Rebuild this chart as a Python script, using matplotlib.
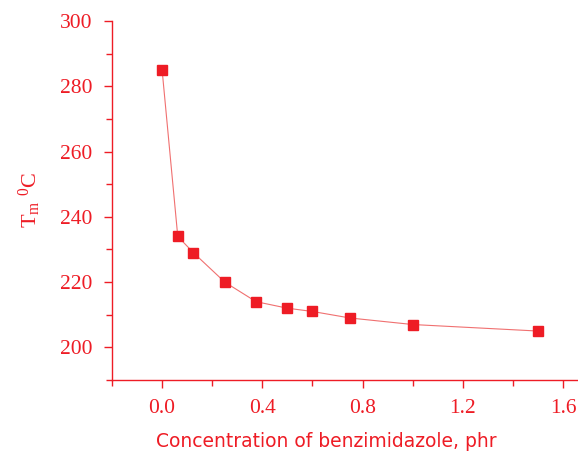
import matplotlib
matplotlib.use("Agg")
import matplotlib.pyplot as plt
from matplotlib.ticker import MultipleLocator

plt.rcParams["mathtext.fontset"] = "custom"
plt.rcParams["mathtext.rm"] = "Liberation Serif"
plt.rcParams["mathtext.it"] = "Liberation Serif:italic"

conc = [0.0, 0.0625, 0.125, 0.25, 0.375, 0.5, 0.6, 0.75, 1.0, 1.5]
tm = [285, 234, 229, 220, 214, 212, 211, 209, 207, 205]
xticks = [0.0, 0.4, 0.8, 1.2, 1.6]
yticks = [200, 220, 240, 260, 280, 300]

red = "#ee1c25"
fig = plt.figure(figsize=(5.78, 4.54), dpi=100)
ax = fig.add_axes([112/578, 1-380/454, 1-112/578, (380-21)/454])
ax.plot(conc, tm, color="#f07070", lw=0.8, zorder=2)
ax.plot(conc, tm, ls="none", marker="s", ms=7.5, color=red, mec=red, zorder=3)

ax.set_xlim(-0.2, 1.66)
ax.set_ylim(190, 300)
ax.xaxis.set_minor_locator(MultipleLocator(0.2))
ax.yaxis.set_minor_locator(MultipleLocator(10))
ax.set_yticks(yticks)
ax.set_yticklabels([f"{v:d}" for v in yticks])
ax.set_xticks(xticks)
ax.set_xticklabels([f"{v:.1f}" for v in xticks])

for s in ["top", "right"]:
    ax.spines[s].set_visible(False)
for s in ["left", "bottom"]:
    ax.spines[s].set_color(red)
    ax.spines[s].set_linewidth(1.0)

ax.tick_params(which="both", direction="out", colors=red)
ax.tick_params(which="major", length=6, width=1, pad=8)
ax.tick_params(which="minor", length=4, width=1)
for lab in ax.get_xticklabels() + ax.get_yticklabels():
    lab.set_fontfamily("Liberation Serif")
    lab.set_fontsize(15.5)
    lab.set_color(red)

ax.set_xlabel("Concentration of benzimidazole, phr", color=red, fontsize=13.5,
              family="DejaVu Sans")
ax.xaxis.set_label_coords(0.459, -0.145)
ax.set_ylabel(r"T$_\mathrm{m}$ $^\mathrm{0}$C", color=red, fontsize=16,
              family="Liberation Serif", labelpad=12)

fig.savefig("out.png", dpi=100)
